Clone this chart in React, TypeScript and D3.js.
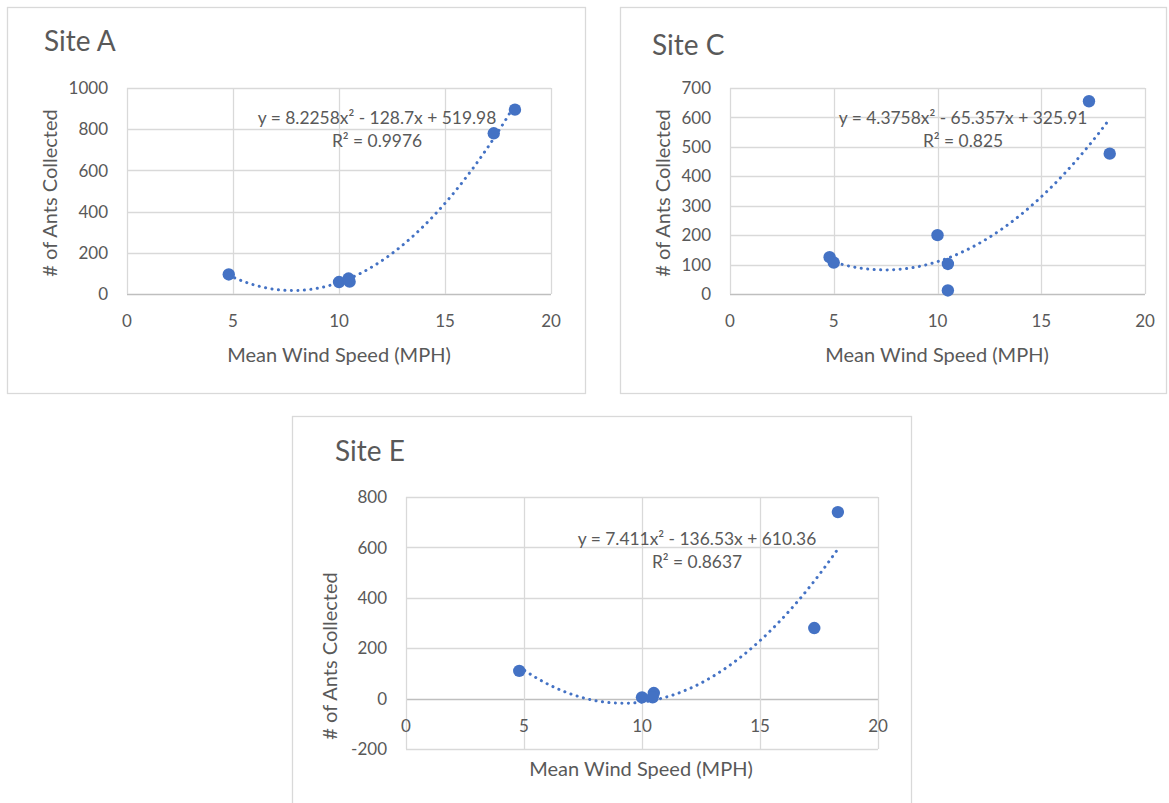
import React from "react";
import * as d3 from "d3";

// ---- Data ----
const siteAWind = [4.8, 10.0, 10.45, 10.5, 17.3, 18.3];
const siteAAnts = [95, 58, 75, 60, 780, 895];
const siteATrend = [8.2258, -128.7, 519.98];
const siteAEquation = "y = 8.2258x\u00B2 - 128.7x + 519.98";
const siteAR2 = "R\u00B2 = 0.9976";
const siteAYTicks = [0, 200, 400, 600, 800, 1000];

const siteCWind = [4.8, 5.0, 10.0, 10.5, 10.5, 17.3, 18.3];
const siteCAnts = [125, 107, 200, 102, 12, 655, 477];
const siteCTrend = [4.3758, -65.357, 325.91];
const siteCEquation = "y = 4.3758x\u00B2 - 65.357x + 325.91";
const siteCR2 = "R\u00B2 = 0.825";
const siteCYTicks = [0, 100, 200, 300, 400, 500, 600, 700];

const siteEWind = [4.8, 10.0, 10.5, 10.45, 17.3, 18.3];
const siteEAnts = [110, 5, 22, 5, 280, 740];
const siteETrend = [7.411, -136.53, 610.36];
const siteEEquation = "y = 7.411x\u00B2 - 136.53x + 610.36";
const siteER2 = "R\u00B2 = 0.8637";
const siteEYTicks = [-200, 0, 200, 400, 600, 800];

const xTicks = [0, 5, 10, 15, 20];

const FONT = "Lato, 'Open Sans', sans-serif";
const TEXT = "#595959";
const GRID = "#d9d9d9";
const BLUE = "#4472C4";

type Panel = {
  title: string;
  frame: [number, number, number, number];
  plot: [number, number, number, number]; // x0, x1, yTop, yBottom
  yTicks: number[];
  xs: number[];
  ys: number[];
  trend: number[];
  eq: string;
  r2: string;
  titlePos: [number, number];
  eqPos: [number, number];
  yTitlePos: [number, number];
  xTitlePos: [number, number];
};

const panels: Panel[] = [
  {
    title: "Site A",
    frame: [7, 7, 585, 393],
    plot: [127, 551, 88, 294],
    yTicks: siteAYTicks,
    xs: siteAWind,
    ys: siteAAnts,
    trend: siteATrend,
    eq: siteAEquation,
    r2: siteAR2,
    titlePos: [44, 51],
    eqPos: [377, 124],
    yTitlePos: [57, 193],
    xTitlePos: [339, 362],
  },
  {
    title: "Site C",
    frame: [620, 7, 1166, 393],
    plot: [730, 1145, 88, 294],
    yTicks: siteCYTicks,
    xs: siteCWind,
    ys: siteCAnts,
    trend: siteCTrend,
    eq: siteCEquation,
    r2: siteCR2,
    titlePos: [652, 55],
    eqPos: [963, 124],
    yTitlePos: [670, 193],
    xTitlePos: [937, 362],
  },
  {
    title: "Site E",
    frame: [292, 416, 911, 830],
    plot: [406, 878, 497, 749],
    yTicks: siteEYTicks,
    xs: siteEWind,
    ys: siteEAnts,
    trend: siteETrend,
    eq: siteEEquation,
    r2: siteER2,
    titlePos: [335, 461],
    eqPos: [697, 545],
    yTitlePos: [337, 656],
    xTitlePos: [641, 776],
  },
];

function ChartPanel({ p }: { p: Panel }) {
  const [x0, x1, yT, yB] = p.plot;
  const x = d3.scaleLinear().domain([0, 20]).range([x0, x1]);
  const yMin = d3.min(p.yTicks) as number;
  const yMax = d3.max(p.yTicks) as number;
  const y = d3.scaleLinear().domain([yMin, yMax]).range([yB, yT]);
  const [a, b, c] = p.trend;
  const xMin = d3.min(p.xs) as number;
  const xMax = d3.max(p.xs) as number;
  const samples = d3.range(0, 101).map((i) => xMin + ((xMax - xMin) * i) / 100);
  const line = d3
    .line<number>()
    .x((v) => x(v))
    .y((v) => y(a * v * v + b * v + c))
    .curve(d3.curveLinear);
  const [fx0, fy0, fx1, fy1] = p.frame;
  return (
    <g>
      <rect x={fx0 + 0.5} y={fy0 + 0.5} width={fx1 - fx0} height={fy1 - fy0} fill="#fff" stroke={GRID} strokeWidth={1.3} />
      <text x={p.titlePos[0]} y={p.titlePos[1]} fontFamily={FONT} fontSize={28} fill={TEXT}>
        {p.title}
      </text>
      {/* gridlines */}
      {p.yTicks.map((t) => (
        <line key={"gy" + t} x1={x0} x2={x1} y1={Math.round(y(t)) + 0.5} y2={Math.round(y(t)) + 0.5} stroke={t === 0 ? "#bfbfbf" : GRID} strokeWidth={1.3} />
      ))}
      {xTicks.map((t) => (
        <line key={"gx" + t} x1={Math.round(x(t)) + 0.5} x2={Math.round(x(t)) + 0.5} y1={yT} y2={yB} stroke={GRID} strokeWidth={1.3} />
      ))}
      {/* y tick labels */}
      {p.yTicks.map((t) => (
        <text key={"ty" + t} x={x0 - 19} y={y(t)} dy="0.36em" textAnchor="end" fontFamily={FONT} fontSize={17} fill={TEXT}>
          {t}
        </text>
      ))}
      {/* x tick labels */}
      {xTicks.map((t) => (
        <text key={"tx" + t} x={x(t)} y={y(0) + 27} dy="0.36em" textAnchor="middle" fontFamily={FONT} fontSize={17} fill={TEXT}>
          {t}
        </text>
      ))}
      {/* trendline */}
      <path d={line(samples) || ""} fill="none" stroke={BLUE} strokeWidth={3} strokeDasharray="0.1 6.4" strokeLinecap="round" />
      {/* points */}
      {p.xs.map((v, i) => (
        <circle key={"pt" + i} cx={x(v)} cy={y(p.ys[i])} r={6.2} fill={BLUE} />
      ))}
      {/* equation */}
      <text x={p.eqPos[0]} y={p.eqPos[1]} textAnchor="middle" fontFamily={FONT} fontSize={17.4} fill={TEXT}>
        {p.eq}
      </text>
      <text x={p.eqPos[0]} y={p.eqPos[1] + 23} textAnchor="middle" fontFamily={FONT} fontSize={17.4} fill={TEXT}>
        {p.r2}
      </text>
      {/* axis titles */}
      <text x={p.xTitlePos[0]} y={p.xTitlePos[1]} textAnchor="middle" fontFamily={FONT} fontSize={20} fill={TEXT}>
        Mean Wind Speed (MPH)
      </text>
      <text
        transform={`translate(${p.yTitlePos[0]},${p.yTitlePos[1]}) rotate(-90)`}
        textAnchor="middle"
        fontFamily={FONT}
        fontSize={20}
        fill={TEXT}
      >
        # of Ants Collected
      </text>
    </g>
  );
}

export default function App() {
  return (
    <svg
      width={1169}
      height={803}
      style={{ position: "absolute", left: 0, top: 0, display: "block", background: "#fff" }}
    >
      <rect x={0} y={0} width={1169} height={803} fill="#fff" />
      {panels.map((p) => (
        <ChartPanel key={p.title} p={p} />
      ))}
    </svg>
  );
}
